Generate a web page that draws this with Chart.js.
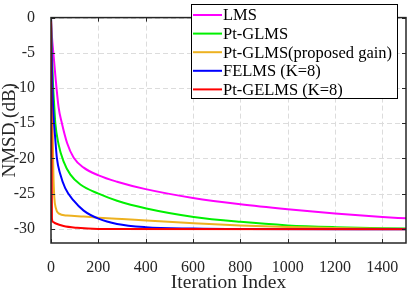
<!DOCTYPE html>
<html>
<head>
<meta charset="utf-8">
<script src="https://cdn.jsdelivr.net/npm/chart.js@4/dist/chart.umd.min.js"></script>
<style>
  html, body { margin: 0; padding: 0; background: #fff; }
  #wrap { width: 410px; height: 292px; position: relative; }
</style>
</head>
<body>
<div id="wrap"><canvas id="nmsdChart"></canvas></div>
<script>
// Curves (iteration, NMSD dB)
const seriesNames = ['LMS', 'Pt-GLMS', 'Pt-GLMS(proposed gain)', 'FELMS (K=8)', 'Pt-GELMS (K=8)'];
const seriesColors = ['#ff00ff', '#00f000', '#edb120', '#0000ff', '#ff0000'];

const lmsIter = [0, 4, 10, 18, 32, 46, 68, 96, 138, 201, 279, 400, 600, 800, 1000, 1200, 1400, 1500];
const lmsDb   = [0, -2.7, -5, -8.1, -12.7, -15, -17.8, -19.9, -21.3, -22.4, -23.3, -24.35, -25.6, -26.5, -27.2, -27.8, -28.3, -28.5];

const ptglmsIter = [0, 3, 8, 14, 18, 32, 53, 82, 124, 201, 279, 403, 603, 800, 1000, 1200, 1500];
const ptglmsDb   = [0, -4, -9, -12.7, -14.9, -18.0, -20.4, -22.3, -23.7, -25.0, -26.0, -27.1, -28.3, -29.0, -29.5, -29.75, -29.95];

const propIter = [0, 5, 10, 14, 20, 32, 68, 138, 201, 300, 403, 603, 800, 1000, 1200, 1500];
const propDb   = [0, -12, -22, -25.5, -27.0, -27.8, -28.1, -28.25, -28.4, -28.6, -28.8, -29.2, -29.5, -29.72, -29.87, -30.0];

const felmsIter = [0, 3, 6, 10, 18, 25, 39, 60, 96, 138, 201, 279, 400, 600, 800, 1500];
const felmsDb   = [0, -5, -10, -13.5, -17.2, -20.0, -22.2, -24.2, -26.0, -27.4, -28.55, -29.3, -29.75, -29.95, -30.02, -30.05];

const gelmsIter = [0, 4, 8, 18, 53, 110, 200, 1500];
const gelmsDb   = [0, -28.5, -29.0, -29.2, -29.6, -29.85, -30.0, -30.05];

const xTicks = [0, 200, 400, 600, 800, 1000, 1200, 1400];
const yTicks = [-30, -25, -20, -15, -10, -5, 0];

const iters = [lmsIter, ptglmsIter, propIter, felmsIter, gelmsIter];
const values = [lmsDb, ptglmsDb, propDb, felmsDb, gelmsDb];

const ink = '#262626';
const serif = '"Liberation Serif", "Times New Roman", serif';

// dashed grid under the curves
const gridPlugin = {
    id: 'dashGrid',
    beforeDatasetsDraw(chart) {
        const { ctx, chartArea: a, scales } = chart;
        ctx.save();
        ctx.strokeStyle = '#dcdcdc';
        ctx.lineWidth = 1;
        ctx.setLineDash([5, 3]);
        ctx.beginPath();
        xTicks.forEach(v => {
            const px = Math.round(scales.x.getPixelForValue(v)) + 0.5;
            ctx.moveTo(px, a.top); ctx.lineTo(px, a.bottom);
        });
        yTicks.forEach(v => {
            const py = Math.round(scales.y.getPixelForValue(v)) + 0.5;
            ctx.moveTo(a.left, py); ctx.lineTo(a.right, py);
        });
        ctx.stroke();
        ctx.restore();
    }
};

// box frame with inward ticks on all four sides, plus axis titles
const framePlugin = {
    id: 'frame',
    afterDatasetsDraw(chart) {
        const { ctx, chartArea: a, scales } = chart;
        ctx.save();
        ctx.strokeStyle = ink;
        ctx.lineWidth = 1;
        ctx.beginPath();
        xTicks.forEach(v => {
            const px = Math.round(scales.x.getPixelForValue(v)) + 0.5;
            ctx.moveTo(px, a.bottom); ctx.lineTo(px, a.bottom - 4);
            ctx.moveTo(px, a.top); ctx.lineTo(px, a.top + 4);
        });
        yTicks.forEach(v => {
            const py = Math.round(scales.y.getPixelForValue(v)) + 0.5;
            ctx.moveTo(a.left, py); ctx.lineTo(a.left + 4, py);
            ctx.moveTo(a.right, py); ctx.lineTo(a.right - 4, py);
        });
        ctx.stroke();
        ctx.lineWidth = 1.5;
        ctx.strokeRect(a.left, a.top, a.right - a.left, a.bottom - a.top);

        ctx.fillStyle = ink;
        ctx.textAlign = 'center';
        ctx.textBaseline = 'middle';
        ctx.font = '19.5px ' + serif;
        ctx.fillText('Iteration Index', (a.left + a.right) / 2, 283);
        ctx.font = '19px ' + serif;
        ctx.translate(10, (a.top + a.bottom) / 2);
        ctx.rotate(-Math.PI / 2);
        ctx.fillText('NMSD (dB)', 0, 0);
        ctx.restore();
    }
};

// legend box in the top right corner
const legendPlugin = {
    id: 'boxLegend',
    afterDraw(chart) {
        const { ctx } = chart;
        const left = 191.5, top = 4.5, w = 206, h = 94;
        ctx.save();
        ctx.fillStyle = '#fff';
        ctx.fillRect(left, top, w, h);
        ctx.strokeStyle = '#000';
        ctx.lineWidth = 1;
        ctx.strokeRect(left, top, w, h);
        ctx.font = '16.5px ' + serif;
        ctx.textBaseline = 'middle';
        chart.data.datasets.forEach((ds, i) => {
            const y = 15 + i * 18.6;
            ctx.strokeStyle = ds.borderColor;
            ctx.lineWidth = 2;
            ctx.beginPath();
            ctx.moveTo(193, y); ctx.lineTo(222, y);
            ctx.stroke();
            ctx.fillStyle = '#000';
            ctx.fillText(ds.label, 223, y + 1);
        });
        ctx.restore();
    }
};

const ctx = document.getElementById('nmsdChart').getContext('2d');

new Chart(ctx, {
    type: 'line',
    data: {
        datasets: seriesNames.map((name, i) => ({
            label: name,
            data: iters[i].map((x, k) => ({ x: x, y: values[i][k] })),
            borderColor: seriesColors[i],
            borderWidth: 2,
            pointRadius: 0,
            cubicInterpolationMode: 'monotone',
            fill: false,
            order: 5 - i
        }))
    },
    options: {
        responsive: true,
        maintainAspectRatio: false,
        animation: false,
        layout: { padding: { top: 7, right: 4, left: 0, bottom: 0 } },
        plugins: {
            legend: { display: false },
            tooltip: { enabled: false }
        },
        scales: {
            x: {
                type: 'linear',
                min: 0,
                max: 1500,
                afterBuildTicks: s => { s.ticks = xTicks.map(v => ({ value: v })); },
                afterFit: s => { s.height = 49; },
                grid: { display: false },
                border: { display: false },
                ticks: {
                    color: ink,
                    padding: 7,
                    maxRotation: 0,
                    font: { family: serif, size: 16 },
                    callback: v => String(v)
                }
            },
            y: {
                min: -32,
                max: 0,
                afterBuildTicks: s => { s.ticks = yTicks.map(v => ({ value: v })); },
                afterFit: s => { s.width = 51; },
                grid: { display: false },
                border: { display: false },
                ticks: {
                    color: ink,
                    padding: 8,
                    font: { family: serif, size: 16 },
                    callback: v => String(v)
                }
            }
        }
    },
    plugins: [gridPlugin, framePlugin, legendPlugin]
});
</script>
</body>
</html>
